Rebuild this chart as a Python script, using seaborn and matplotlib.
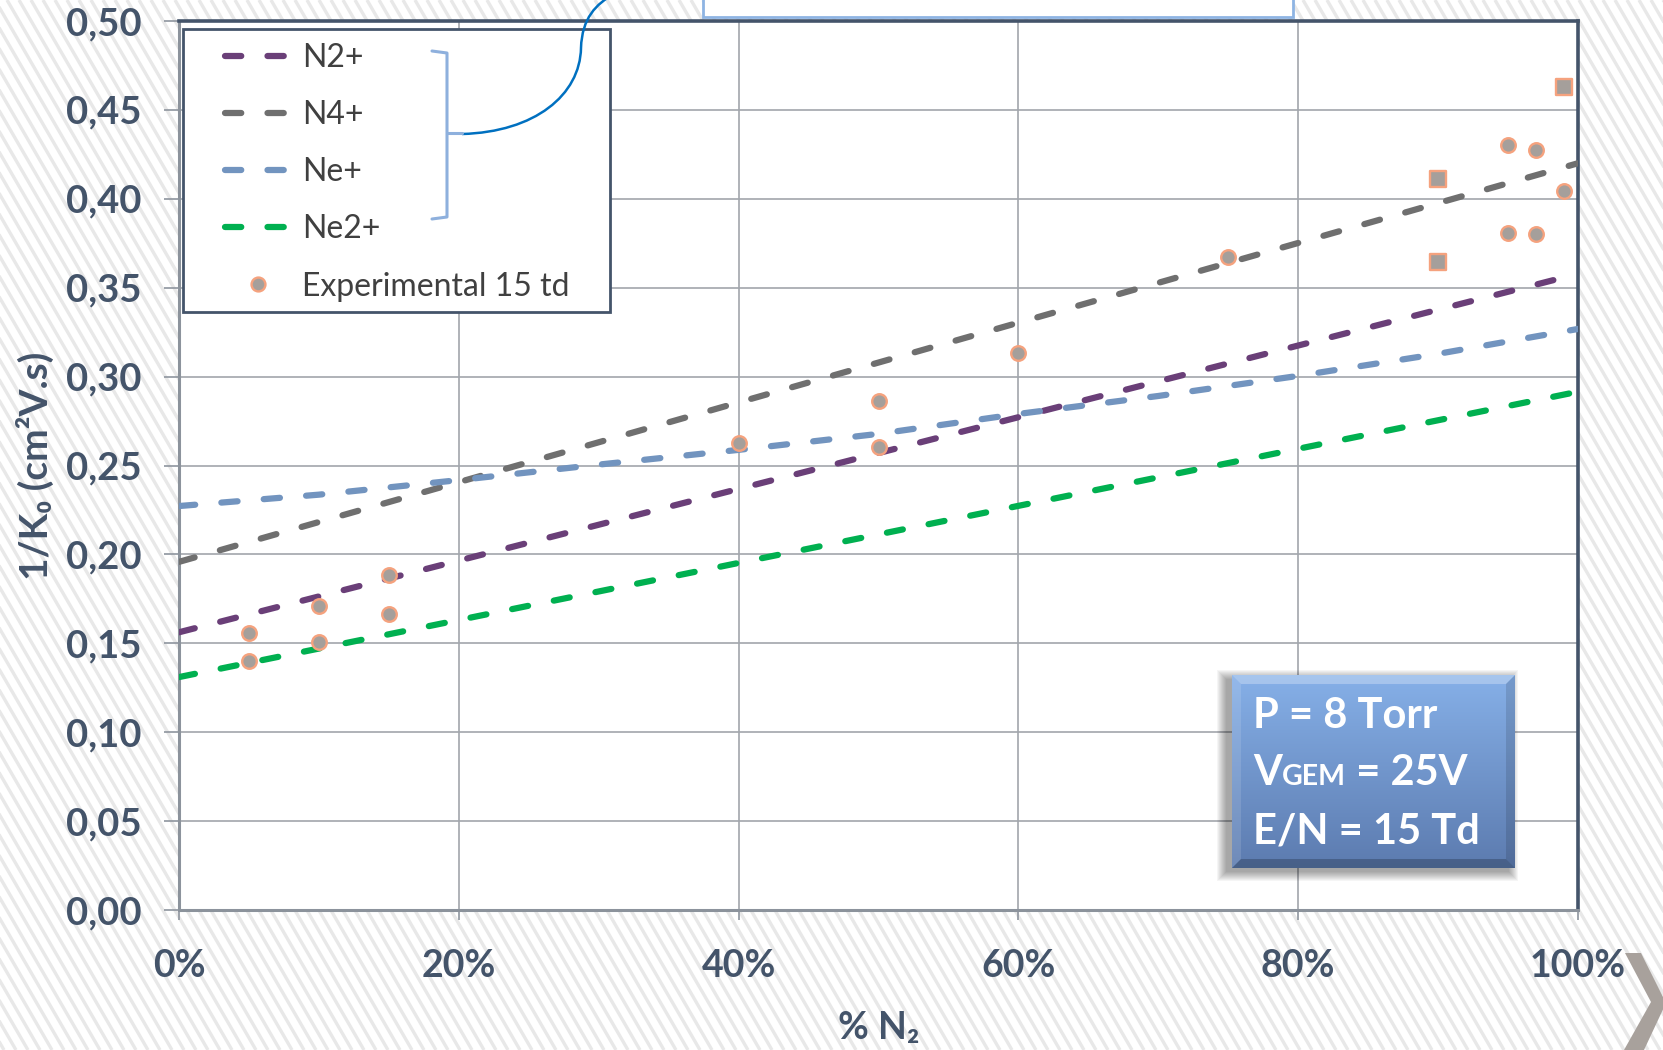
import numpy as np
import pandas as pd
import matplotlib
matplotlib.use("Agg")
import matplotlib.pyplot as plt
import seaborn as sns
from matplotlib.lines import Line2D
from matplotlib.patches import Polygon, Rectangle, PathPatch
from matplotlib.path import Path
from matplotlib.collections import LineCollection

# ---- data -------------------------------------------------------------
n2_pct = [0, 100]
n2_plus = [0.1562, 0.3578]

n4_pct = [0, 100]
n4_plus = [0.1958, 0.4200]

ne_pct = [0, 10, 20, 30, 40, 50, 60, 70, 80, 90, 100]
ne_plus = [0.2272, 0.2336, 0.2418, 0.2505, 0.2588, 0.2678, 0.2790, 0.2891,
           0.3004, 0.3128, 0.3268]

ne2_pct = [0, 100]
ne2_plus = [0.1310, 0.2915]

exp_pct = [5, 5, 10, 10, 15, 15, 40, 50, 50, 60, 75, 95, 95, 97, 97, 99]
exp_val = [0.156, 0.140, 0.171, 0.151, 0.1885, 0.1665, 0.2628, 0.2862,
           0.2606, 0.313, 0.3672, 0.430, 0.381, 0.4275, 0.380, 0.4045]

exp_sq_pct = [90, 90, 99]
exp_sq_val = [0.411, 0.3645, 0.4628]

ion_names = ["N2+", "N4+", "Ne+", "Ne2+"]
ion_colors = ["#6A3F78", "#6F6F6F", "#7294BF", "#00B050"]
exp_label = "Experimental 15 td"

x_ticks = [0, 20, 40, 60, 80, 100]
x_tick_labels = ["0%", "20%", "40%", "60%", "80%", "100%"]
y_ticks = [0.00, 0.05, 0.10, 0.15, 0.20, 0.25, 0.30, 0.35, 0.40, 0.45, 0.50]
y_tick_labels = ["0,00", "0,05", "0,10", "0,15", "0,20", "0,25", "0,30",
                 "0,35", "0,40", "0,45", "0,50"]

info_lines = ["P = 8 Torr", "E/N = 15 Td"]

# ---- long table for seaborn ---------------------------------------------
frames = []
for name, xs, ys in zip(ion_names, [n2_pct, n4_pct, ne_pct, ne2_pct],
                        [n2_plus, n4_plus, ne_plus, ne2_plus]):
    frames.append(pd.DataFrame({"pct": xs, "val": ys, "ion": name}))
lines_df = pd.concat(frames, ignore_index=True)

# ---- style --------------------------------------------------------------
sns.set_theme(style="white")
plt.rcParams["font.family"] = ["Lato", "DejaVu Sans"]

W, H = 1663, 1050
fig = plt.figure(figsize=(W / 100, H / 100), dpi=100)
fig.patch.set_facecolor("white")

TXT = "#44546A"
LW = 4.5
DASH = (2.6, 4.2)

# slide background: light diagonal stripes
bg = fig.add_axes([0, 0, 1, 1], zorder=0)
bg.set_xlim(0, W)
bg.set_ylim(H, 0)
bg.axis("off")
slope = 0.58
segs = [[(c, 0), (c + slope * H, H)] for c in range(-int(slope * H) - 20, W + 20, 12)]
bg.add_collection(LineCollection(segs, colors="#E8E8E8", linewidths=2.4))
bg.add_patch(Polygon([(1625, 953), (1641, 953), (1666, 1003), (1644, 1050),
                      (1624, 1050), (1651, 1002)], closed=True,
                     facecolor="#A8A19C", edgecolor="none", zorder=3))

# main chart
ax = fig.add_axes([179 / W, 1 - 910 / H, 1399 / W, 889 / H], zorder=2)
ax.set_facecolor("white")

palette = dict(zip(ion_names, ion_colors))
sns.lineplot(data=lines_df, x="pct", y="val", hue="ion", style="ion",
             palette=palette, dashes={n: DASH for n in ion_names},
             linewidth=LW, estimator=None, legend=False, ax=ax, zorder=3)
for ln in ax.lines:
    ln.set_linewidth(LW)
    ln.set_linestyle((0, DASH))
    ln.set_dash_capstyle("round")

sns.scatterplot(x=exp_pct, y=exp_val, marker="o", s=110, color="#A59F9B",
                edgecolor="#F5A27E", linewidth=1.7, ax=ax, zorder=5)
sns.scatterplot(x=exp_sq_pct, y=exp_sq_val, marker="s", s=135, color="#A59F9B",
                edgecolor="#F5A27E", linewidth=1.7, ax=ax, zorder=5)

ax.set_xlim(0, 100)
ax.set_ylim(0, 0.5)
ax.set_xticks(x_ticks, labels=x_tick_labels, fontsize=27, fontweight="bold", color=TXT)
ax.set_yticks(y_ticks, labels=y_tick_labels, fontsize=27.5, fontweight="bold", color=TXT)
ax.tick_params(axis="y", direction="out", length=11, width=1.2, color="#8E959E", pad=16, left=True)
ax.tick_params(axis="x", direction="out", length=7, width=1.2, color="#8E959E", pad=21, bottom=True)
ax.grid(True, color="#A2A6AC", linewidth=1.2)
ax.set_axisbelow(True)

for side in ["top", "right"]:
    ax.spines[side].set_color("#44546A")
    ax.spines[side].set_linewidth(2.6)
for side in ["left", "bottom"]:
    ax.spines[side].set_color("#8C939C")
    ax.spines[side].set_linewidth(2.2)

ax.set_ylabel("1/K\u2080 (cm\u00b2V.s)", fontsize=28, fontweight="bold", color=TXT, va="center")
ax.yaxis.set_label_coords((35 - 179) / 1399, 0.5)
ax.set_xlabel("% N\u2082", fontsize=27, fontweight="bold", color=TXT, va="center")
ax.xaxis.set_label_coords(0.5, (910 - 1028) / 889)

# legend box and entries
ax.add_patch(Rectangle((4 / 1399, (910 - 312) / 889), 427 / 1399, 283 / 889,
                       transform=ax.transAxes, facecolor="white", edgecolor="#44546A",
                       linewidth=2.0, zorder=6))
handles = [Line2D([0], [0], color=c, lw=LW, linestyle=(0, DASH), dash_capstyle="round")
           for c in ion_colors]
handles.append(Line2D([], [], ls="", marker="o", markersize=10, markerfacecolor="#A59F9B",
                      markeredgecolor="#F5A27E", markeredgewidth=1.7))
leg = ax.legend(handles, ion_names + [exp_label], loc="upper left",
                bbox_to_anchor=((225 - 179) / 1399, (910 - 43) / 889),
                borderaxespad=0, borderpad=0, frameon=False, fontsize=23,
                labelcolor="#404040", handlelength=2.07, handletextpad=0.35,
                labelspacing=0.85)
leg.set_zorder(7)

# overlay: bracket, connector curve, callout boxes
ov = fig.add_axes([0, 0, 1, 1], zorder=10)
ov.set_facecolor("none")
ov.axis("off")
ov.set_xlim(0, W)
ov.set_ylim(H, 0)

ov.plot([432, 447, 447, 432], [51, 53, 217, 219], color="#8EB0DD", lw=2.2,
        solid_joinstyle="round")
ov.plot([447, 462], [133, 133], color="#8EB0DD", lw=2.2)
curve = Path([(462, 134), (535, 132), (580, 95), (581, 48),
              (582, 18), (596, 4), (614, -6)],
             [Path.MOVETO, Path.CURVE4, Path.CURVE4, Path.CURVE4,
              Path.CURVE4, Path.CURVE4, Path.CURVE4])
ov.add_patch(PathPatch(curve, facecolor="none", edgecolor="#0070C0", lw=1.8))

ov.add_patch(Rectangle((703, -30), 590, 47, facecolor="white", edgecolor="#8EB4E3", lw=2.0))

# parameter box with gradient, bevel and soft shadow
x0, x1, y0, y1 = 1232, 1515, 675, 868
for i in range(10):
    ov.add_patch(Rectangle((x0 - 6 - i, y0 + 4 - i), (x1 - x0) + 2 * i, (y1 - y0) + 2 * i,
                           facecolor="#000000", edgecolor="none", alpha=0.04))
top_c = np.array([134, 176, 232]) / 255
bot_c = np.array([92, 123, 175]) / 255
t = np.linspace(0, 1, 200)[:, None, None]
grad = (top_c[None, None, :] * (1 - t) + bot_c[None, None, :] * t) * np.ones((1, 2, 1))
ov.imshow(grad, extent=(x0, x1, y1, y0), aspect="auto", interpolation="bilinear", zorder=2)
b = 9
ov.add_patch(Polygon([(x0, y0), (x1, y0), (x1 - b, y0 + b), (x0 + b, y0 + b)],
                     facecolor="white", alpha=0.28, edgecolor="none", zorder=3))
ov.add_patch(Polygon([(x0, y0), (x0 + b, y0 + b), (x0 + b, y1 - b), (x0, y1)],
                     facecolor="white", alpha=0.12, edgecolor="none", zorder=3))
ov.add_patch(Polygon([(x1, y0), (x1, y1), (x1 - b, y1 - b), (x1 - b, y0 + b)],
                     facecolor="black", alpha=0.12, edgecolor="none", zorder=3))
ov.add_patch(Polygon([(x0, y1), (x1, y1), (x1 - b, y1 - b), (x0 + b, y1 - b)],
                     facecolor="black", alpha=0.22, edgecolor="none", zorder=3))
ov.set_xlim(0, W)
ov.set_ylim(H, 0)

fs_big, fs_small = 30, 20.5
tkw = dict(color="white", fontweight="bold", va="baseline", ha="left", zorder=5)
ov.text(1253, 728, info_lines[0], fontsize=fs_big, **tkw)
ov.text(1253, 843, info_lines[1], fontsize=fs_big, **tkw)
renderer = fig.canvas.get_renderer()
xpos = 1253
for piece, fs in [("V", fs_big), ("GEM", fs_small), (" = 25V", fs_big)]:
    tt = ov.text(xpos, 785, piece, fontsize=fs, **tkw)
    ext = tt.get_window_extent(renderer)
    xpos = ext.x1

fig.savefig("out.png", dpi=100)
